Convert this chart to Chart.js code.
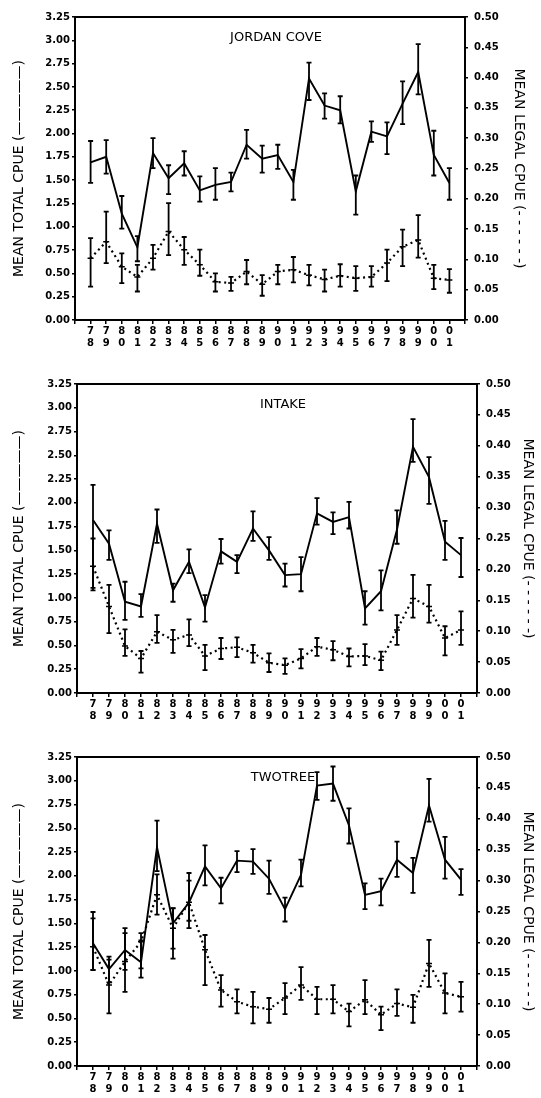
<!DOCTYPE html>
<html>
<head>
<meta charset="utf-8">
<script src="https://cdn.jsdelivr.net/npm/chart.js@4.4.0/dist/chart.umd.min.js"></script>
<style>
  body { margin: 0; background: #fff; }
  #wrap { position: relative; width: 541px; height: 1098px; background: #fff; }
  #wrap canvas { position: absolute; left: 0; }
</style>
</head>
<body>
<div id="wrap">
  <canvas id="c1" width="541" height="360" style="top:0px"></canvas>
  <canvas id="c2" width="541" height="368" style="top:365px"></canvas>
  <canvas id="c3" width="541" height="368" style="top:738px"></canvas>
</div>
<script>
// years (two digit), shown as two stacked digits on the x axis
const years = ["78","79","80","81","82","83","84","85","86","87","88","89",
               "90","91","92","93","94","95","96","97","98","99","00","01"];

// JORDAN COVE
const jcTotal   = [1.69,1.75,1.14,0.78,1.79,1.52,1.68,1.39,1.45,1.48,1.88,1.73,1.77,1.48,2.59,2.30,2.25,1.38,2.02,1.97,2.32,2.66,1.77,1.47];
const jcTotalLo = [1.47,1.57,0.98,0.63,1.63,1.35,1.55,1.27,1.29,1.38,1.73,1.58,1.62,1.29,2.36,2.16,2.11,1.13,1.91,1.78,2.10,2.42,1.55,1.29];
const jcTotalHi = [1.92,1.93,1.33,0.90,1.95,1.66,1.81,1.54,1.63,1.58,2.04,1.87,1.88,1.61,2.76,2.43,2.40,1.55,2.13,2.12,2.56,2.96,2.03,1.63];
const jcLegal   = [0.102,0.129,0.088,0.071,0.102,0.146,0.116,0.091,0.063,0.061,0.080,0.059,0.080,0.083,0.074,0.067,0.073,0.069,0.071,0.094,0.121,0.132,0.069,0.066];
const jcLegalLo = [0.055,0.094,0.061,0.047,0.083,0.107,0.091,0.073,0.047,0.048,0.059,0.040,0.059,0.062,0.057,0.047,0.055,0.048,0.055,0.064,0.089,0.103,0.051,0.045];
const jcLegalHi = [0.135,0.179,0.110,0.091,0.124,0.193,0.137,0.116,0.077,0.071,0.099,0.074,0.091,0.104,0.091,0.083,0.092,0.089,0.089,0.116,0.149,0.173,0.091,0.084];

// INTAKE
const inTotal   = [1.82,1.57,0.96,0.91,1.78,1.08,1.38,0.90,1.49,1.38,1.73,1.50,1.24,1.25,1.89,1.80,1.85,0.89,1.07,1.72,2.59,2.27,1.59,1.45];
const inTotalLo = [1.08,1.40,0.77,0.80,1.58,0.96,1.26,0.75,1.36,1.26,1.60,1.40,1.12,1.07,1.77,1.67,1.73,0.72,0.87,1.57,2.43,1.99,1.40,1.22];
const inTotalHi = [2.19,1.71,1.17,1.04,1.93,1.15,1.51,1.03,1.62,1.45,1.91,1.64,1.36,1.43,2.05,1.90,2.01,1.07,1.29,1.92,2.88,2.48,1.81,1.63];
const inLegal   = [0.205,0.140,0.076,0.056,0.099,0.086,0.094,0.060,0.072,0.074,0.065,0.049,0.045,0.056,0.075,0.070,0.059,0.060,0.053,0.102,0.153,0.140,0.089,0.102];
const inLegalLo = [0.170,0.097,0.060,0.033,0.081,0.065,0.076,0.037,0.055,0.058,0.049,0.034,0.031,0.040,0.060,0.053,0.043,0.045,0.037,0.078,0.122,0.114,0.061,0.078];
const inLegalHi = [0.250,0.175,0.103,0.068,0.126,0.102,0.119,0.078,0.089,0.090,0.078,0.064,0.056,0.071,0.089,0.084,0.072,0.079,0.067,0.126,0.191,0.175,0.108,0.132];

// TWOTREE
const ttTotal   = [1.29,1.02,1.22,1.09,2.30,1.50,1.72,2.10,1.87,2.16,2.15,1.97,1.65,2.01,2.95,2.97,2.53,1.80,1.84,2.17,2.03,2.74,2.17,1.96];
const ttTotalLo = [1.01,0.88,1.01,0.93,2.05,1.13,1.45,1.90,1.71,2.04,2.02,1.81,1.52,1.89,2.80,2.79,2.34,1.65,1.69,1.99,1.82,2.57,1.97,1.80];
const ttTotalHi = [1.62,1.15,1.45,1.32,2.58,1.66,2.03,2.32,1.98,2.26,2.28,2.16,1.77,2.17,3.09,3.15,2.71,1.92,1.97,2.36,2.19,3.02,2.41,2.07];
const ttLegal   = [0.193,0.131,0.169,0.201,0.277,0.223,0.265,0.188,0.123,0.104,0.096,0.092,0.110,0.131,0.108,0.108,0.088,0.107,0.083,0.101,0.095,0.166,0.118,0.112];
const ttLegalLo = [0.155,0.085,0.120,0.158,0.245,0.190,0.235,0.131,0.096,0.085,0.069,0.070,0.084,0.107,0.084,0.085,0.064,0.084,0.058,0.081,0.070,0.128,0.085,0.088];
const ttLegalHi = [0.239,0.172,0.215,0.215,0.310,0.255,0.300,0.212,0.147,0.124,0.120,0.110,0.134,0.160,0.128,0.131,0.101,0.139,0.096,0.124,0.115,0.204,0.150,0.136];

const FONT = "'DejaVu Sans', sans-serif";

// blank slot each side so the first/last year sit one step in from the frame
const pad = (arr) => [null, ...arr, null];
const xLabels = ["", ...years.map((y) => [y[0], y[1]]), ""];

const errorBars = {
  id: "errorBars",
  afterDatasetsDraw(chart) {
    const ctx = chart.ctx;
    chart.data.datasets.forEach((ds, di) => {
      if (!ds.errLo) return;
      const meta = chart.getDatasetMeta(di);
      const ys = chart.scales[ds.yAxisID];
      ctx.save();
      ctx.strokeStyle = "#000";
      ctx.lineWidth = 1.8;
      meta.data.forEach((pt, i) => {
        const lo = ds.errLo[i], hi = ds.errHi[i];
        if (lo == null || hi == null) return;
        const x = pt.x, y1 = ys.getPixelForValue(lo), y2 = ys.getPixelForValue(hi);
        ctx.beginPath();
        ctx.moveTo(x, y1); ctx.lineTo(x, y2);
        ctx.moveTo(x - 2.5, y1); ctx.lineTo(x + 2.5, y1);
        ctx.moveTo(x - 2.5, y2); ctx.lineTo(x + 2.5, y2);
        ctx.stroke();
      });
      ctx.restore();
    });
  },
};

const frameAndTitle = {
  id: "frameAndTitle",
  afterDraw(chart, args, opts) {
    const { ctx, chartArea: a } = chart;
    ctx.save();
    ctx.strokeStyle = "#000";
    ctx.lineWidth = 2;
    ctx.beginPath();
    ctx.moveTo(a.left, a.top); ctx.lineTo(a.right, a.top);
    ctx.stroke();
    ctx.fillStyle = "#000";
    ctx.font = "13px " + FONT;
    ctx.textAlign = "center";
    ctx.textBaseline = "middle";
    ctx.fillText(opts.text, (a.left + a.right) / 2 + opts.dx, a.top + 21);
    ctx.restore();
  },
};

function makePanel(id, title, total, totalLo, totalHi, legal, legalLo, legalHi, box) {
  const ctx = document.getElementById(id).getContext("2d");
  return new Chart(ctx, {
    type: "line",
    data: {
      labels: xLabels,
      datasets: [
        {
          label: "Mean total CPUE",
          data: pad(total),
          errLo: pad(totalLo),
          errHi: pad(totalHi),
          yAxisID: "y",
          borderColor: "#000",
          borderWidth: 1.9,
          pointRadius: 0,
          tension: 0,
        },
        {
          label: "Mean legal CPUE",
          data: pad(legal),
          errLo: pad(legalLo),
          errHi: pad(legalHi),
          yAxisID: "y1",
          borderColor: "#000",
          borderWidth: 2.2,
          borderDash: [2, 3.5],
          pointStyle: "line",
          pointRadius: 3,
          pointBorderWidth: 1.5,
          pointBorderColor: "#000",
          tension: 0,
        },
      ],
    },
    options: {
      responsive: false,
      animation: false,
      devicePixelRatio: 1,
      layout: { padding: { top: box.top, left: 0, right: 0, bottom: 0 } },
      plugins: {
        legend: { display: false },
        tooltip: { enabled: false },
        frameAndTitle: { text: title, dx: 6 },
      },
      scales: {
        x: {
          type: "category",
          offset: false,
          grid: { drawOnChartArea: false, drawTicks: true, tickLength: 4, color: "#000", lineWidth: 1.5 },
          border: { display: true, color: "#000", width: 2 },
          ticks: {
            color: "#000",
            autoSkip: false,
            maxRotation: 0,
            padding: 2,
            font: { family: FONT, size: 10, weight: "bold", lineHeight: 1.15 },
          },
          afterFit: (s) => { s.height = 40; },
        },
        y: {
          position: "left",
          min: 0,
          max: 3.25,
          grid: { drawOnChartArea: false, drawTicks: true, tickLength: 3, color: "#000", lineWidth: 1.5 },
          border: { display: true, color: "#000", width: 2 },
          ticks: {
            stepSize: 0.25,
            color: "#000",
            padding: 2,
            font: { family: FONT, size: 10, weight: "bold" },
            callback: (v) => Number(v).toFixed(2),
          },
          title: {
            display: true,
            text: "MEAN TOTAL CPUE (\u2014\u2014\u2014\u2014\u2014)",
            color: "#000",
            font: { family: FONT, size: 14 },
            padding: { top: box.leftTitlePad, bottom: 0 },
          },
          afterFit: (s) => { s.width = box.left; },
        },
        y1: {
          position: "right",
          min: 0,
          max: 0.5,
          grid: { drawOnChartArea: false, drawTicks: true, tickLength: 3, color: "#000", lineWidth: 1.5 },
          border: { display: true, color: "#000", width: 2 },
          ticks: {
            stepSize: 0.05,
            color: "#000",
            padding: 6,
            font: { family: FONT, size: 10, weight: "bold" },
            callback: (v) => Number(v).toFixed(2),
          },
          title: {
            display: true,
            text: "MEAN LEGAL CPUE (- - - - - -)",
            color: "#000",
            font: { family: FONT, size: 14 },
            padding: { top: box.rightTitlePad, bottom: 0 },
          },
          afterFit: (s) => { s.width = 541 - box.right; },
        },
      },
    },
    plugins: [errorBars, frameAndTitle],
  });
}

makePanel("c1", "JORDAN COVE", jcTotal, jcTotalLo, jcTotalHi, jcLegal, jcLegalLo, jcLegalHi,
  { top: 17, left: 75, right: 465, leftTitlePad: 11, rightTitlePad: 14 });
makePanel("c2", "INTAKE", inTotal, inTotalLo, inTotalHi, inLegal, inLegalLo, inLegalHi,
  { top: 19, left: 77, right: 477, leftTitlePad: 11, rightTitlePad: 5 });
makePanel("c3", "TWOTREE", ttTotal, ttTotalLo, ttTotalHi, ttLegal, ttLegalLo, ttLegalHi,
  { top: 19, left: 77, right: 477, leftTitlePad: 11, rightTitlePad: 5 });
</script>
</body>
</html>
